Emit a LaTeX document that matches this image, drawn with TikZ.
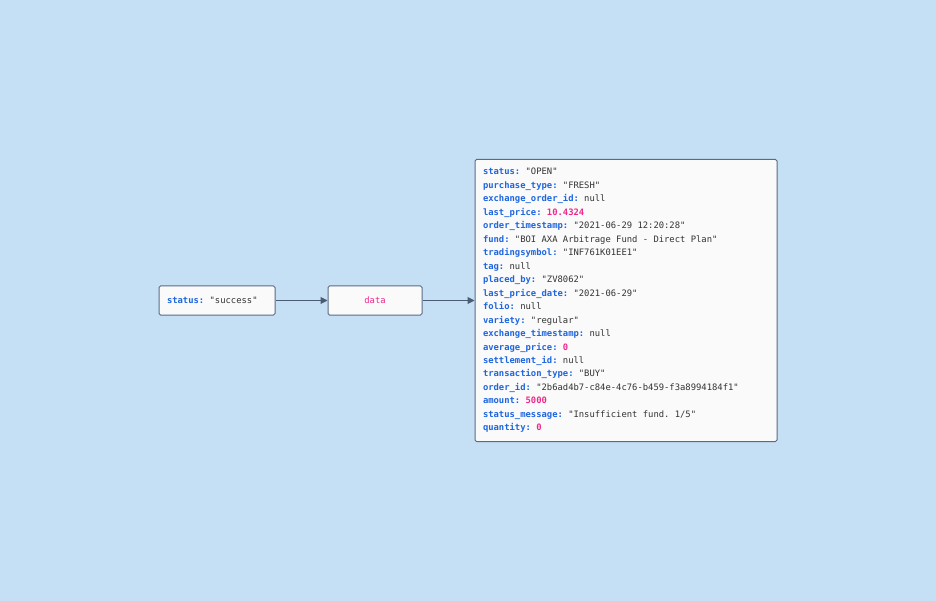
\documentclass[tikz,border=0pt]{standalone}
\usepackage{fontspec}
\newfontfamily\jmono{DejaVu Sans Mono}
\usetikzlibrary{arrows.meta}
\definecolor{bg}{HTML}{C5DFF5}
\definecolor{boxfill}{HTML}{FAFAFA}
\definecolor{boxline}{HTML}{5A6B85}
\definecolor{arrowc}{HTML}{4A5B73}
\definecolor{keyc}{HTML}{1E66E0}
\definecolor{valc}{HTML}{333333}
\definecolor{numc}{HTML}{F0288C}
\newcommand{\kk}[1]{\textbf{\color{keyc}#1:}}
\newcommand{\nn}[1]{\textbf{\color{numc}#1}}
\newcommand{\monosize}{\jmono\fontsize{8.85}{13.47}\selectfont}
\newcommand{\fixsp}{\spaceskip=5.33pt\xspaceskip=5.33pt\relax}
\begin{document}
\begin{tikzpicture}[x=1pt,y=-1pt,
  every node/.style={font=\monosize, text=valc},
  jbox/.style={draw=boxline, fill=boxfill, line width=1pt, rounded corners=1.5pt, inner sep=0pt},
  conn/.style={draw=arrowc, line width=1pt, -{Triangle[length=7pt,width=7pt]}}]
\fill[bg] (0,0) rectangle (936,601);
\useasboundingbox (0,0) rectangle (936,601);
\node[jbox, minimum width=116pt, minimum height=29pt, text width=100pt, align=left] (st) at (217,300.5) {\fixsp\kk{status} "success"};
\node[jbox, minimum width=94pt, minimum height=29pt] (data) at (375,300.5) {\color{numc}data};
\node[jbox, minimum width=302pt, minimum height=282pt, text width=286pt, align=left] (obj) at (626,300.5) {\fixsp
\kk{status} "OPEN"\\
\kk{purchase\_type} "FRESH"\\
\kk{exchange\_order\_id} null\\
\kk{last\_price} \nn{10.4324}\\
\kk{order\_timestamp} "2021-06-29 12:20:28"\\
\kk{fund} "BOI AXA Arbitrage Fund - Direct Plan"\\
\kk{tradingsymbol} "INF761K01EE1"\\
\kk{tag} null\\
\kk{placed\_by} "ZV8062"\\
\kk{last\_price\_date} "2021-06-29"\\
\kk{folio} null\\
\kk{variety} "regular"\\
\kk{exchange\_timestamp} null\\
\kk{average\_price} \nn{0}\\
\kk{settlement\_id} null\\
\kk{transaction\_type} "BUY"\\
\kk{order\_id} "2b6ad4b7-c84e-4c76-b459-f3a8994184f1"\\
\kk{amount} \nn{5000}\\
\kk{status\_message} "Insufficient fund. 1/5"\\
\kk{quantity} \nn{0}};
\draw[conn] (st.east) -- (data.west);
\draw[conn] (data.east) -- (obj.west |- data.east);
\end{tikzpicture}
\end{document}
